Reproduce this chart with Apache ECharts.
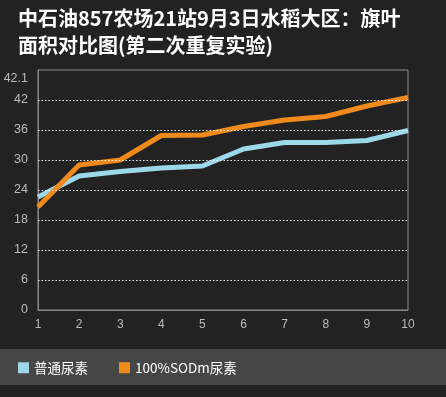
<!DOCTYPE html>
<html><head><meta charset="utf-8">
<script src="https://cdn.jsdelivr.net/npm/echarts@6/dist/echarts.min.js"></script>
<style>html,body{margin:0;padding:0;background:#222222;}#c{width:446px;height:397px;}</style>
</head><body><div id="c"></div>
<script>
var categories = ['1','2','3','4','5','6','7','8','9','10'];
var seriesNames = ['普通尿素', '100%SODm尿素'];
var normalUrea = [22.6, 26.8, 27.7, 28.4, 28.8, 32.2, 33.5, 33.5, 33.9, 35.9];
var sodmUrea = [20.6, 29.0, 30.0, 34.9, 35.0, 36.7, 38.0, 38.7, 40.8, 42.5];
var gridValues = [6, 12, 18, 24, 30, 36, 42];
var topLabel = '42.1';

var chart = echarts.init(document.getElementById('c'));
chart.setOption({
  backgroundColor: '#222222',
  animation: false,
  title: {
    text: '中石油857农场21站9月3日水稻大区：旗叶\n面积对比图(第二次重复实验)',
    left: 18, top: 5, padding: 0,
    textStyle: {color: '#ffffff', fontSize: 20, fontWeight: 'bold', lineHeight: 27,
      fontFamily: '"Noto Sans CJK SC", sans-serif'}
  },
  graphic: [{type: 'rect', left: 0, top: 349, z: -1, shape: {width: 446, height: 36}, style: {fill: '#464646'}}],
  legend: {
    left: 13, top: 356, icon: 'rect', itemWidth: 11, itemHeight: 11, itemGap: 31,
    textStyle: {color: '#ffffff', fontSize: 13.5, fontFamily: '"Noto Sans CJK SC", sans-serif'},
    data: seriesNames
  },
  grid: {left: 38, right: 38, top: 70, bottom: 87, show: true, borderColor: '#8a8a8a', borderWidth: 1, backgroundColor: 'transparent'},
  xAxis: {
    type: 'category', data: categories, boundaryGap: false,
    axisLine: {lineStyle: {color: '#8a8a8a'}}, axisTick: {show: false},
    axisLabel: {color: '#bbbbbb', fontSize: 12, margin: 9, fontFamily: 'sans-serif'},
    splitLine: {show: false}
  },
  yAxis: {
    type: 'value', min: 0, max: 48, interval: 6,
    axisLine: {show: true, lineStyle: {color: '#8a8a8a'}}, axisTick: {show: false},
    splitLine: {show: false},
    axisLabel: {color: '#bbbbbb', fontSize: 12.5, margin: 10, fontFamily: 'sans-serif',
      formatter: function (v) { return v === 48 ? '{t|' + topLabel + '}' : String(v); },
      rich: {t: {color: '#bbbbbb', fontSize: 12.5, padding: [18, 0, 0, 0]}}}
  },
  series: [
    {name: seriesNames[0], type: 'line', data: normalUrea, symbol: 'none', color: '#9dd8ea',
     lineStyle: {width: 5, color: '#9dd8ea'}, z: 3,
     markLine: {silent: true, symbol: 'none', label: {show: false},
       lineStyle: {type: [1.5, 2], color: '#f0f0f0', width: 1}, emphasis: {disabled: true},
       data: gridValues.map(function (v) { return {yAxis: v}; })}},
    {name: seriesNames[1], type: 'line', data: sodmUrea, symbol: 'none', color: '#f08a1c',
     lineStyle: {width: 5, color: '#f08a1c'}, z: 4}
  ]
});
</script></body></html>
